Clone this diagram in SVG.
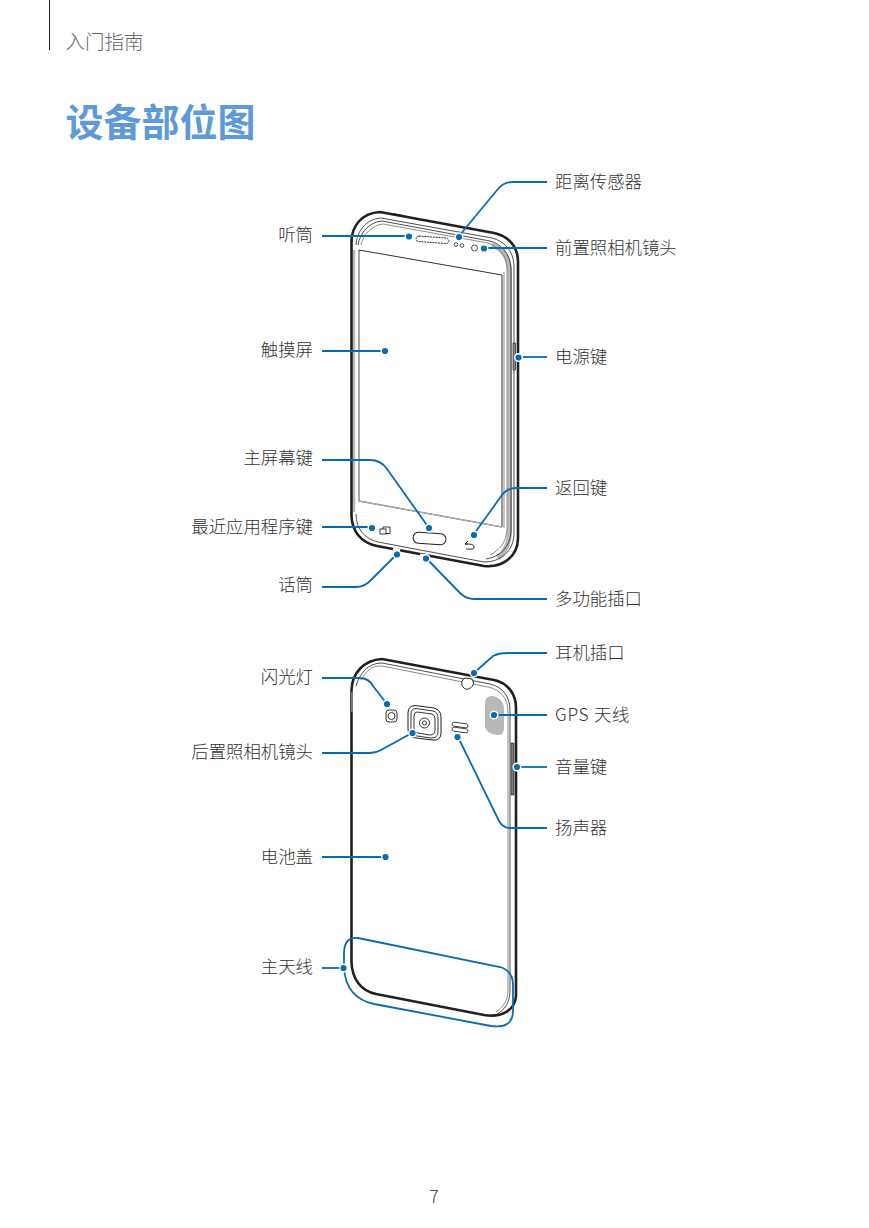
<svg xmlns="http://www.w3.org/2000/svg" width="869" height="1228" viewBox="0 0 869 1228">
<style>
text{font-family:"Noto Sans CJK SC","Noto Sans",sans-serif}
.l{font-size:17.4px;fill:#333;font-weight:300}
.o{fill:none;stroke:#231f20;stroke-width:2.6;stroke-linejoin:round}
.t{fill:none;stroke:#231f20;stroke-width:.8}
.g{fill:none;stroke:#8c8c8c;stroke-width:1}
.b{fill:none;stroke:#b8b8b8;stroke-width:5}
.c{fill:none;stroke:#0a6cb0;stroke-width:1.8}
.d{fill:#0a6cb0;stroke:#fff;stroke-width:1.4}
</style>
<rect width="869" height="1228" fill="#fff"/>
<g id="header">
<line x1="49.500" y1="0" x2="49.500" y2="50" stroke="#231f20" stroke-width="1"/>
<text x="65.500" y="48.500" font-size="19.500" fill="#666" font-weight="300">入门指南</text>
<text x="65.500" y="136" font-size="38" fill="#5e9ad8" font-weight="700">设备部位图</text>
</g>
<g id="phone-front">
<path class="b" d="M509.500 272C509 258 503 249 492 245M509.500 272V533C509 545 505 552 498 558"/>
<path class="b" stroke-width="2" style="stroke-width:2.500" d="M354 250V512"/>
<path class="o" d="M351.500 243C351 226 362 213 380 212L494 233C508 236 518 246 518 262V538C518 556 503 568 484 566L377 546C361 543 352 531 351.500 516Z"/>
<path class="t" d="M356 245C357 231 366 219 381 218L492 238C504 241 513 250 514 265V535C513 551 501 562 484 562L378 542C365 539 356 529 356 514"/>
<path class="t" d="M358 245C360 233 369 222 382 221L490 241C501 244 510 253 511 268V532C510 547 500 557 486 559"/>
<path class="g" d="M361 245C363 235 372 225 383 224L488 243C499 247 507 255 507 270V530C506 542 500 550 490 555"/>
<path class="g" d="M504 272V528"/>
<path d="M359 250 502 275V527L359 501Z" fill="#fff" stroke="#333" stroke-width="1"/>
<path d="M359 252V501L502 527" fill="none" stroke="#aaa" stroke-width="1.500"/>
<path d="M513 343h2.500v27h-2.500z" fill="#888" stroke="#231f20" stroke-width=".7"/>
<path d="M394 214l10 2" stroke="#231f20" stroke-width="1.500"/>
<rect x="416" y="237" width="33" height="5.500" rx="2.700" transform="rotate(4 432 240)" fill="#fff" stroke="#231f20" stroke-width=".9" stroke-dasharray="2 .8"/>
<circle cx="456" cy="244.500" r="1.800" fill="#fff" stroke="#231f20" stroke-width=".8"/>
<circle cx="462" cy="245.500" r="1.800" fill="#fff" stroke="#231f20" stroke-width=".8"/>
<circle cx="474.500" cy="248" r="3" fill="#fff" stroke="#231f20" stroke-width=".8"/>
<rect x="380" y="529" width="6" height="5" fill="#fff" stroke="#231f20" stroke-width=".9"/>
<path d="M383 529v-2h7v6.500h-4" fill="none" stroke="#231f20" stroke-width=".9"/>
<rect x="413" y="533" width="33" height="11" rx="5.500" transform="rotate(4 430 539)" fill="#fff" stroke="#231f20" stroke-width="1"/>
<path d="M468 544h-3l3-3M465 544c5 0 9 0 9 3s-4 2-8 2" fill="none" stroke="#231f20" stroke-width="1"/>
<path d="M393 549l7 1.500M420 555l8 1.500" stroke="#fff" stroke-width="3"/>
</g>
<g id="phone-back">
<path class="o" d="M351.500 690C352 673 364 660 382 659L494 680C508 683 516 694 516 708V996C515 1010 502 1018 484 1015L376 994C361 991 352 979 351.500 962Z"/>
<path class="t" d="M356 686C360 673 368 663 382 663L490 684C503 687 510 697 510 710V992C509 1004 505 1009 497 1014"/>
<path class="g" d="M361 680C366 671 372 665 382 666L488 687C501 690 508 698 508 712V992C507 1002 503 1007 496 1012"/>
<path d="M351 692h2v20h-2z" fill="#777"/>
<path d="M511 743h3v52h-3z" fill="#777" stroke="#231f20" stroke-width=".6"/>
<path d="M485 704Q485 695 493 696Q503 698 504 708V728Q504 736 497 735Q485 733 485 726Z" fill="#b8b8b8"/>
<path d="M465 678c-4 2-4 7-2 9 3 4 8 2 10-2 1-2 0-4-1-6z" fill="#fff" stroke="#231f20" stroke-width="1"/>
<rect x="386" y="710" width="11" height="12" rx="3" fill="#fff" stroke="#231f20" stroke-width=".9"/>
<circle cx="391.500" cy="716" r="3.500" fill="#fff" stroke="#231f20" stroke-width=".9"/>
<path d="M415 705.500 434 708Q441 710 441 717V734Q440 741 433 740L416 738Q408 737 408 729V713Q408 706 415 705.500Z" fill="#fff" stroke="#231f20" stroke-width="1"/>
<path d="M416 708.500 433 711Q438 712 438 718V732Q438 738 431 738L417 736Q411 735 411 729V714Q411 708.500 416 708.500Z" fill="#fff" stroke="#231f20" stroke-width=".9"/>
<path d="M417 712 432 714Q435 715 435 719V730Q435 735 430 735L418 733Q414 732 414 728V716Q414 712 417 712Z" fill="#fff" stroke="#231f20" stroke-width=".9"/>
<circle cx="424.500" cy="723" r="5" fill="#fff" stroke="#231f20" stroke-width=".9"/>
<circle cx="424.500" cy="723" r="2" fill="#fff" stroke="#231f20" stroke-width=".9"/>
<rect x="452" y="723" width="16" height="4" rx="2" transform="rotate(8 460 725)" fill="#fff" stroke="#231f20" stroke-width=".8"/>
<rect x="452" y="728" width="16" height="4" rx="2" transform="rotate(8 460 730)" fill="#fff" stroke="#231f20" stroke-width=".8"/>
</g>
<g id="connectors">
<path class="c" d="M322 236H408"/>
<path class="c" d="M322 351H385"/>
<path class="c" d="M322 460H370Q381 460 387 469L429 528"/>
<path class="c" d="M322 527H372"/>
<path class="c" d="M322 587H356Q364 587 370 581L397 554"/>
<path class="c" d="M547 182H513Q504 182 498 189L459 236"/>
<path class="c" d="M547 248H484"/>
<path class="c" d="M547 357H518"/>
<path class="c" d="M547 488H516Q507 488 502 495L474 534"/>
<path class="c" d="M547 599H474Q466 599 460 593L426 558"/>
<path class="c" d="M322 678H359Q369 678 373 686L387 704"/>
<path class="c" d="M322 753H370Q376 753 381 750L412 733"/>
<path class="c" d="M322 857H385"/>
<path class="c" d="M322 968H343"/>
<path class="c" d="M547 653H507Q499 653 493 656L474 673"/>
<path class="c" d="M547 715H494"/>
<path class="c" d="M547 767H517"/>
<path class="c" d="M547 828H510Q503 828 499 821L458 737"/>
<path class="c" d="M358 938 500 967Q513 971 513 985V1012Q512 1029 491 1026L374 1004Q346 998 344 968V952Q345 936 358 938Z"/>
<circle class="d" cx="409" cy="236.500" r="3.800"/>
<circle class="d" cx="385" cy="351" r="3.800"/>
<circle class="d" cx="429" cy="528" r="3.800"/>
<circle class="d" cx="372" cy="528" r="3.800"/>
<circle class="d" cx="397" cy="554.500" r="3.800"/>
<circle class="d" cx="459" cy="237" r="3.800"/>
<circle class="d" cx="484" cy="248.500" r="3.800"/>
<circle class="d" cx="518.500" cy="357.500" r="3.800"/>
<circle class="d" cx="474" cy="535" r="3.800"/>
<circle class="d" cx="426" cy="558.500" r="3.800"/>
<circle class="d" cx="387" cy="704" r="3.800"/>
<circle class="d" cx="412.500" cy="733" r="3.800"/>
<circle class="d" cx="385.500" cy="857" r="3.800"/>
<circle class="d" cx="343.500" cy="968" r="3.800"/>
<circle class="d" cx="474" cy="673" r="3.800"/>
<circle class="d" cx="494" cy="715" r="3.800"/>
<circle class="d" cx="517" cy="767" r="3.800"/>
<circle class="d" cx="457.500" cy="737" r="3.800"/>
</g>
<g id="labels">
<text class="l" x="313" y="241" text-anchor="end">听筒</text>
<text class="l" x="313" y="356" text-anchor="end">触摸屏</text>
<text class="l" x="313" y="464" text-anchor="end">主屏幕键</text>
<text class="l" x="313" y="533" text-anchor="end">最近应用程序键</text>
<text class="l" x="313" y="591" text-anchor="end">话筒</text>
<text class="l" x="313" y="683" text-anchor="end">闪光灯</text>
<text class="l" x="313" y="758" text-anchor="end">后置照相机镜头</text>
<text class="l" x="313" y="863" text-anchor="end">电池盖</text>
<text class="l" x="313" y="973" text-anchor="end">主天线</text>
<text class="l" x="555" y="188">距离传感器</text>
<text class="l" x="555" y="254">前置照相机镜头</text>
<text class="l" x="555" y="363">电源键</text>
<text class="l" x="555" y="494">返回键</text>
<text class="l" x="555" y="605">多功能插口</text>
<text class="l" x="555" y="659">耳机插口</text>
<text class="l" x="555" y="721" letter-spacing=".7">GPS 天线</text>
<text class="l" x="555" y="773">音量键</text>
<text class="l" x="555" y="834">扬声器</text>
<text x="434" y="1203" font-size="18" fill="#444" text-anchor="middle" font-weight="300">7</text>
</g>
</svg>
